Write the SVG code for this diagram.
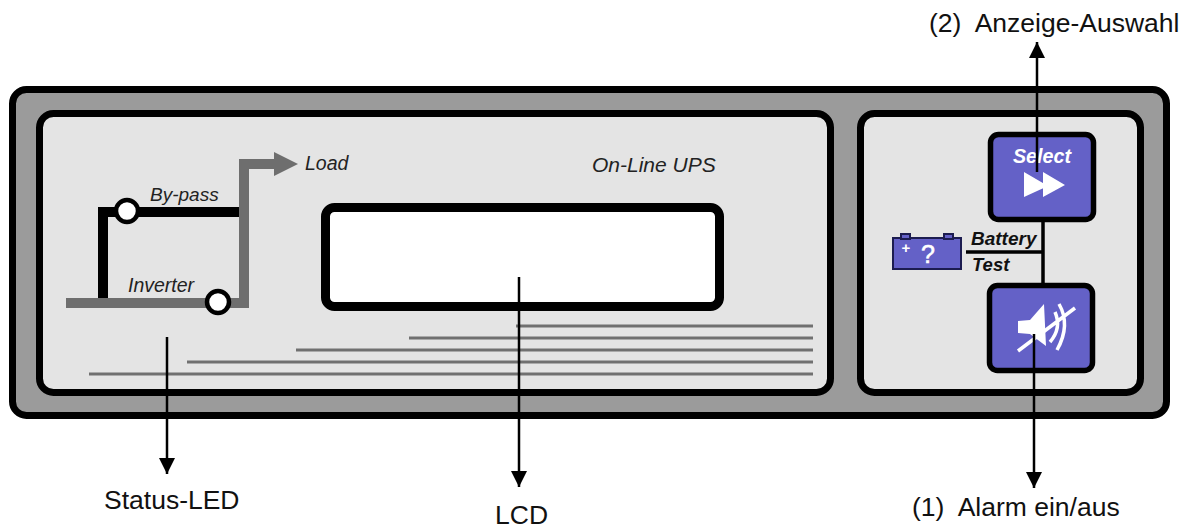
<svg xmlns="http://www.w3.org/2000/svg" width="1191" height="530" viewBox="0 0 1191 530">
<defs>
<marker id="ah" markerUnits="userSpaceOnUse" markerWidth="16" markerHeight="16" refX="16" refY="8" orient="auto"><path d="M0 0L16 8L0 16Z" fill="#000"/></marker>
</defs>
<style>
text{font-family:"Liberation Sans",Arial,sans-serif;fill:#111;white-space:pre}
.lab{font-size:26.500px}
.it{font-style:italic;fill:#222}
.panel{fill:#e4e4e4;stroke:#000;stroke-width:7}
.btn{fill:#6461c7;stroke:#000;stroke-width:5.5}
.vent{stroke:#707070;stroke-width:3;fill:none}
.wh{fill:#fff}
.arrow{stroke:#000;stroke-width:2.5;fill:none;marker-end:url(#ah)}
</style>
<rect width="1191" height="530" fill="#fff"/>
<g id="case"><rect x="12.500" y="89.500" width="1154" height="326" rx="14" fill="#9b9b9b" stroke="#000" stroke-width="7"/></g>
<g id="left-panel">
<rect class="panel" x="39.500" y="113.500" width="791" height="279" rx="14"/>
<path class="vent" d="M516 326H813M409 338H813M296 350H813M187 362H813M89 374H813"/>
<text class="it" x="592" y="172" font-size="21">On-Line UPS</text>
</g>
<g id="right-panel"><rect class="panel" x="860.500" y="113.500" width="280" height="279" rx="14"/></g>
<g id="lcd"><rect x="325.500" y="207.500" width="394" height="99" rx="9" fill="#fff" stroke="#000" stroke-width="9"/></g>
<g id="status-led">
<path d="M103 298V212H239" fill="none" stroke="#000" stroke-width="10"/>
<path d="M66 303H244V164H275" fill="none" stroke="#6e6e6e" stroke-width="10"/>
<path d="M274 152L298 164L274 176Z" fill="#6e6e6e"/>
<circle cx="127" cy="211" r="11" fill="#fff" stroke="#000" stroke-width="4.500"/>
<circle cx="218" cy="302" r="11" fill="#fff" stroke="#000" stroke-width="4.500"/>
<text class="it" x="150" y="201" font-size="19">By-pass</text>
<text class="it" x="128" y="292" font-size="19.500">Inverter</text>
<text class="it" x="305" y="170" font-size="19.500">Load</text>
</g>
<g id="battery-test">
<path d="M1043 222V283M966 252H1044" fill="none" stroke="#000" stroke-width="3.500"/>
<rect x="893" y="238" width="68" height="31" fill="#6461c7" stroke="#1c1c50" stroke-width="2"/>
<rect x="901" y="234" width="9" height="5" fill="#6461c7" stroke="#1c1c50" stroke-width="2"/>
<rect x="944" y="234" width="9" height="5" fill="#6461c7" stroke="#1c1c50" stroke-width="2"/>
<text x="906" y="253" font-size="15" font-weight="700" text-anchor="middle" style="fill:#fff">+</text>
<text x="928" y="263" font-size="25" text-anchor="middle" stroke="#fff" stroke-width="0.600" style="fill:#fff">?</text>
<text x="971" y="245" font-size="19" font-style="italic" font-weight="700">Battery</text>
<text x="972" y="271" font-size="18.500" font-style="italic" font-weight="700">Test</text>
</g>
<g id="select-button">
<rect class="btn" x="990.500" y="134.500" width="103" height="85" rx="8"/>
<text x="1042" y="163" font-size="19.700" font-style="italic" font-weight="700" text-anchor="middle" style="fill:#fff">Select</text>
<path class="wh" d="M1024 172L1048 186L1024 197ZM1043 172L1065 185L1043 197Z"/>
</g>
<g id="alarm-button">
<rect class="btn" x="989.500" y="285.500" width="103" height="85" rx="8"/>
<path class="wh" d="M1018 321L1030 320L1044 304L1046 346L1030 334L1018 333Z"/>
<path d="M1018 351L1075 308M1055 312Q1062 328 1050 342M1059 304Q1071 325 1057 350" fill="none" stroke="#fff" stroke-width="3.500"/>
</g>
<g id="connectors">
<path class="arrow" d="M1037 172V42"/>
<path class="arrow" d="M1034 334V488"/>
<path class="arrow" d="M167 337V474"/>
<path class="arrow" d="M519 277V487"/>
</g>
<g id="labels">
<text class="lab" x="929" y="32">(2)  Anzeige-Auswahl</text>
<text class="lab" x="104" y="509">Status-LED</text>
<text class="lab" x="495" y="524">LCD</text>
<text class="lab" x="912" y="516">(1)  Alarm ein/aus</text>
</g>
</svg>
